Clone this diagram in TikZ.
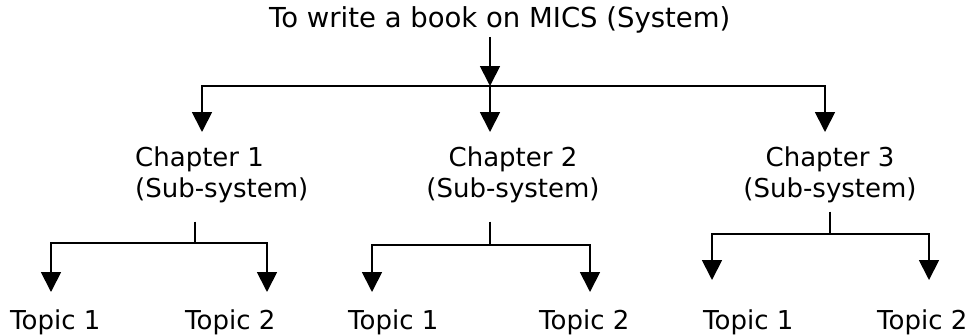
\documentclass[tikz,border=0pt]{standalone}
\usepackage{fontspec}
\setmainfont{DejaVu Sans}
\usetikzlibrary{arrows.meta}

\begin{document}
\begin{tikzpicture}[
        x=1pt, y=-1pt,
        txt/.style={inner sep=0pt, font=\fontsize{26}{31}\selectfont},
        chapter/.style={txt, anchor=north},
        topic/.style={txt, anchor=base west},
        line/.style={line width=1.8pt},
        arrow/.style={line width=1.8pt, -{Triangle[width=20pt,length=20pt]}}
    ]
    \useasboundingbox (0,0) rectangle (974,335);

    % Nodes
    \node (Book) [txt, anchor=base west, font=\fontsize{27.5}{31}\selectfont] at (269,27) {To write a book on MICS (System)};
    \node (Ch1) [chapter, anchor=north west, align=left] at (135,147) {Chapter 1\\(Sub-system)};
    \node (Ch2) [chapter, align=center] at (513,147) {Chapter 2\\(Sub-system)};
    \node (Ch3) [chapter, align=center] at (830,147) {Chapter 3\\(Sub-system)};

    \node (T11) [topic] at (10,329) {Topic 1};
    \node (T12) [topic] at (185,329) {Topic 2};
    \node (T21) [topic] at (348,329) {Topic 1};
    \node (T22) [topic] at (539,329) {Topic 2};
    \node (T31) [topic] at (703,329) {Topic 1};
    \node (T32) [topic] at (877,329) {Topic 2};

    % Junctions and arrow ends
    \coordinate (J0) at (490,86);
    \coordinate (J1) at (195,243);
    \coordinate (J2) at (490,245);
    \coordinate (J3) at (830,234);
    \coordinate (A1) at (202,132);
    \coordinate (A2) at (490,132);
    \coordinate (A3) at (825,132);
    \coordinate (B11) at (51,292);
    \coordinate (B12) at (267,292);
    \coordinate (B21) at (372,292);
    \coordinate (B22) at (590,292);
    \coordinate (B31) at (712,280);
    \coordinate (B32) at (929,280);

    % Arrows
    \draw [arrow, shorten <=4pt] (Book.south -| J0) -- (J0);
    \draw [arrow] (J0) -| (A1);
    \draw [arrow] (J0) -- (A2);
    \draw [arrow] (J0) -| (A3);

    \draw [line, shorten <=18pt] (Ch1.south -| J1) -- (J1);
    \draw [arrow] (J1) -| (B11);
    \draw [arrow] (J1) -| (B12);

    \draw [line, shorten <=18pt] (Ch2.south -| J2) -- (J2);
    \draw [arrow] (J2) -| (B21);
    \draw [arrow] (J2) -| (B22);

    \draw [line, shorten <=8pt] (Ch3.south -| J3) -- (J3);
    \draw [arrow] (J3) -| (B31);
    \draw [arrow] (J3) -| (B32);

\end{tikzpicture}
\end{document}
